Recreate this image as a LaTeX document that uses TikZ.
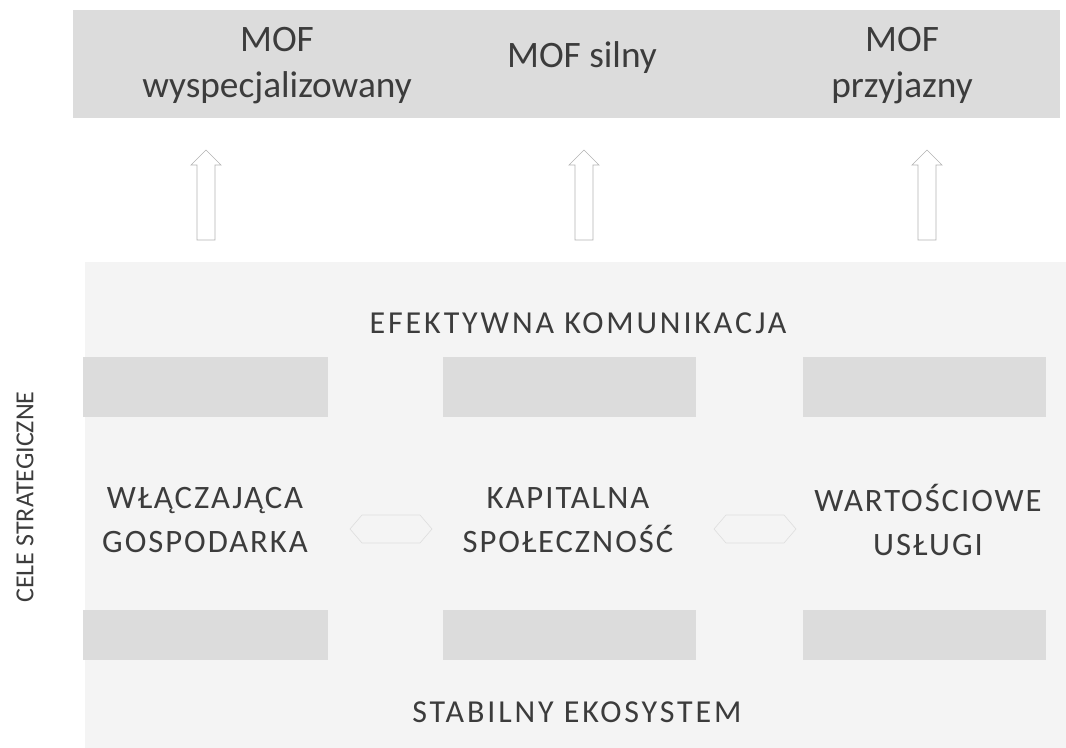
\documentclass[tikz,border=0pt]{standalone}
\usepackage{fontspec}
\setmainfont{Carlito}
\definecolor{bandgray}{HTML}{DCDCDC}
\definecolor{txtgray}{HTML}{3C3C3C}
\definecolor{fieldgray}{HTML}{F4F4F4}

\begin{document}
\begin{tikzpicture}[x=0.75pt,y=-0.75pt,
  band/.style={fill=bandgray, draw=none},
  goal/.style={text=txtgray, align=center,
    font=\fontsize{24.5}{33}\selectfont\addfontfeature{LetterSpace=6}},
  level/.style={text=txtgray,
    font=\fontsize{24}{28}\selectfont\addfontfeature{LetterSpace=9}},
  vision/.style={text=txtgray, align=center, font=\fontsize{28}{34.5}\selectfont},
  uparrow/.style={draw=gray!60, line width=0.5pt},
  linkarrow/.style={draw=gray!25, line width=0.5pt}]
\useasboundingbox (0,0) rectangle (1066,748);

% tlo
\fill[fieldgray] (85,262) rectangle (1066,748);
\fill[bandgray] (73,10) rectangle (1060,118);

\foreach \y/\h in {357/417, 610/660} {
\fill[band] (83,\y) rectangle (328,\h);
\fill[band] (443,\y) rectangle (696,\h);
\fill[band] (803,\y) rectangle (1046,\h);
}

% strzalki w gore
\foreach \x in {206,584,927} {
\draw[uparrow] (\x-9,240) -- (\x+9,240) -- (\x+9,165) -- (\x+15,165)
  -- (\x,150) -- (\x-15,165) -- (\x-9,165) -- cycle;
}

% laczniki miedzy celami
\foreach \a/\b in {350/432, 714/796} {
\draw[linkarrow] (\a,529) -- (\a+12,515) -- (\b-12,515) -- (\b,529)
  -- (\b-12,543) -- (\a+12,543) -- cycle;
}

\node[vision] (mofA) at (277,66) {MOF\\wyspecjalizowany};
\node[vision] (mofB) at (582,58) {MOF silny};
\node[vision] (mofC) at (902,66) {MOF\\przyjazny};

\node[level] (komunikacja) at (578,323) {EFEKTYWNA KOMUNIKACJA};
\node[level] (ekosystem) at (577,712) {STABILNY EKOSYSTEM};

\node[goal] (gospodarka) at (205,520) {WŁĄCZAJĄCA\\GOSPODARKA};
\node[goal] (spolecznosc) at (568,520) {KAPITALNA\\SPOŁECZNOŚĆ};
\node[goal] (uslugi) at (928,520) {WARTOŚCIOWE\\USŁUGI};

\node[text=txtgray, rotate=90, font=\fontsize{19.5}{22}\selectfont] (cele) at (25,497) {CELE STRATEGICZNE};

\end{tikzpicture}
\end{document}
